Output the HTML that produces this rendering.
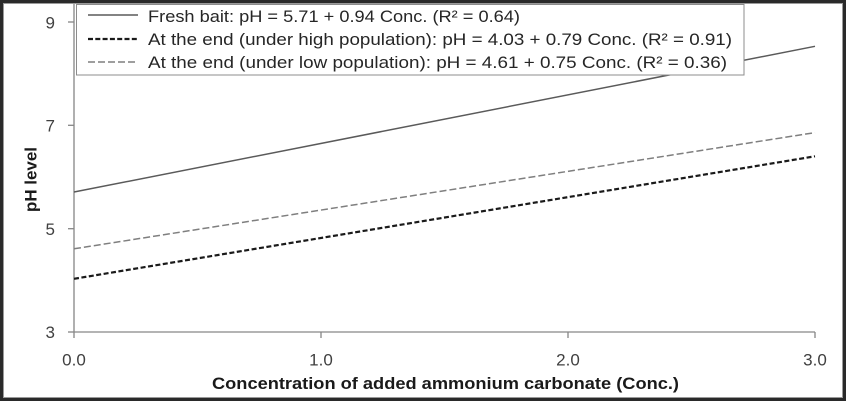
<!DOCTYPE html>
<html>
<head>
<meta charset="utf-8">
<style>
  html,body{margin:0;padding:0;background:#fff;}
  svg{display:block;}
  text{font-family:"Liberation Sans",Arial,sans-serif;}
</style>
</head>
<body>
<svg width="846" height="401" viewBox="0 0 846 401" xmlns="http://www.w3.org/2000/svg">
  <rect x="0" y="0" width="846" height="401" fill="#ffffff"/>
  <!-- outer frame -->
  <rect x="1.5" y="1.5" width="843" height="398" fill="none" stroke="#2a2a2a" stroke-width="3"/>
  <rect x="3.5" y="3.5" width="839" height="394" fill="none" stroke="#9a9a9a" stroke-width="1"/>

  <!-- axes -->
  <g stroke="#868686" stroke-width="1.3" fill="none">
    <line x1="74" y1="4" x2="74" y2="332"/>
    <line x1="74" y1="332" x2="815" y2="332"/>
    <!-- y ticks -->
    <line x1="68" y1="22" x2="74" y2="22"/>
    <line x1="68" y1="125.3" x2="74" y2="125.3"/>
    <line x1="68" y1="228.7" x2="74" y2="228.7"/>
    <line x1="68" y1="332" x2="74" y2="332"/>
    <!-- x ticks -->
    <line x1="74" y1="332" x2="74" y2="338"/>
    <line x1="321" y1="332" x2="321" y2="338"/>
    <line x1="568" y1="332" x2="568" y2="338"/>
    <line x1="815" y1="332" x2="815" y2="338"/>
  </g>

  <!-- series -->
  <line x1="74" y1="192" x2="815" y2="46.3" stroke="#5a5a5a" stroke-width="1.5"/>
  <line x1="74" y1="248.8" x2="815" y2="132.6" stroke="#7f7f7f" stroke-width="1.5" stroke-dasharray="7,3"/>
  <line x1="74" y1="278.8" x2="815" y2="156.3" stroke="#1a1a1a" stroke-width="2.2" stroke-dasharray="5,2.5"/>

  <!-- legend -->
  <rect x="76.5" y="4.5" width="667.5" height="70.5" fill="#ffffff" stroke="#8c8c8c" stroke-width="1"/>
  <line x1="88" y1="15" x2="138" y2="15" stroke="#5a5a5a" stroke-width="1.5"/>
  <line x1="88" y1="39" x2="138" y2="39" stroke="#1a1a1a" stroke-width="2.2" stroke-dasharray="5,2.3"/>
  <line x1="88" y1="62" x2="138" y2="62" stroke="#7f7f7f" stroke-width="1.5" stroke-dasharray="7,3"/>
  <g font-size="17" fill="#262626">
    <text x="148" y="22" textLength="372" lengthAdjust="spacingAndGlyphs">Fresh bait: pH = 5.71 + 0.94 Conc. (R² = 0.64)</text>
    <text x="148" y="45" textLength="584" lengthAdjust="spacingAndGlyphs">At the end (under high population): pH = 4.03 + 0.79 Conc. (R² = 0.91)</text>
    <text x="148" y="68" textLength="579" lengthAdjust="spacingAndGlyphs">At the end (under low population): pH = 4.61 + 0.75 Conc. (R² = 0.36)</text>
  </g>

  <!-- y tick labels -->
  <g font-size="17" fill="#404040" text-anchor="end">
    <text x="55" y="28.5">9</text>
    <text x="55" y="131.5">7</text>
    <text x="55" y="235">5</text>
    <text x="55" y="338">3</text>
  </g>
  <!-- x tick labels -->
  <g font-size="17" fill="#404040" text-anchor="middle">
    <text x="74" y="365.5">0.0</text>
    <text x="321" y="365.5">1.0</text>
    <text x="568" y="365.5">2.0</text>
    <text x="815" y="365.5">3.0</text>
  </g>

  <!-- axis titles -->
  <text x="212" y="389" font-size="17" font-weight="bold" fill="#1a1a1a" textLength="467" lengthAdjust="spacingAndGlyphs">Concentration of added ammonium carbonate (Conc.)</text>
  <text transform="translate(36.5,212) rotate(-90)" x="0" y="0" font-size="17" font-weight="bold" fill="#1a1a1a" textLength="65" lengthAdjust="spacingAndGlyphs">pH level</text>
</svg>
</body>
</html>
